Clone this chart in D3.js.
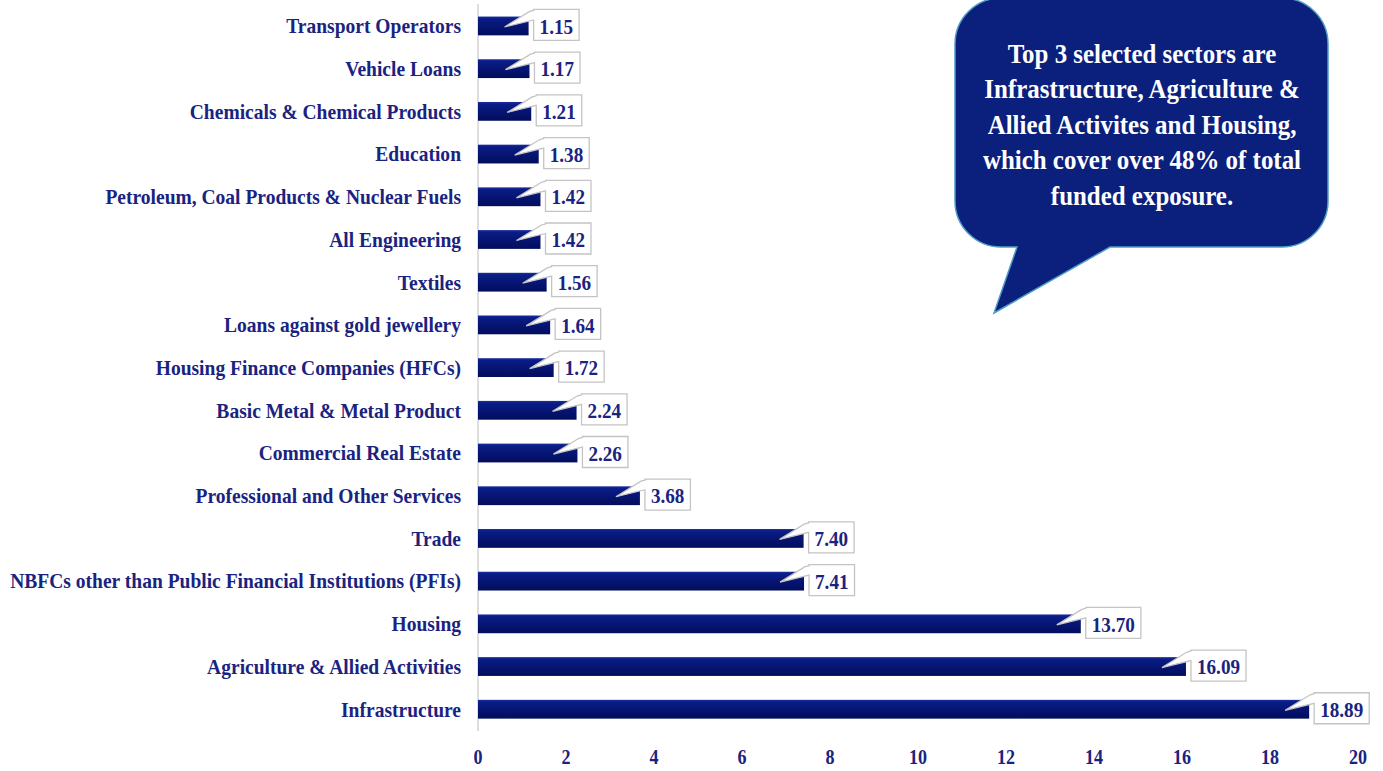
<!DOCTYPE html>
<html>
<head>
<meta charset="utf-8">
<script src="https://cdn.jsdelivr.net/npm/d3@7"></script>
<style>
  html, body { margin: 0; padding: 0; background: #ffffff; }
  svg { display: block; }
  text { font-family: "Liberation Serif", "DejaVu Serif", serif; font-weight: bold; }
</style>
</head>
<body>
<svg id="chart" width="1383" height="771"></svg>
<script>
// Sector-wise share of funded exposure (%)
const categories = [
  "Transport Operators",
  "Vehicle Loans",
  "Chemicals & Chemical Products",
  "Education",
  "Petroleum, Coal Products & Nuclear Fuels",
  "All Engineering",
  "Textiles",
  "Loans against gold jewellery",
  "Housing Finance Companies (HFCs)",
  "Basic Metal & Metal Product",
  "Commercial Real Estate",
  "Professional and Other Services",
  "Trade",
  "NBFCs other than Public Financial Institutions (PFIs)",
  "Housing",
  "Agriculture & Allied Activities",
  "Infrastructure"
];
const values = [1.15, 1.17, 1.21, 1.38, 1.42, 1.42, 1.56, 1.64, 1.72, 2.24, 2.26, 3.68, 7.40, 7.41, 13.70, 16.09, 18.89];
const xTicks = [0, 2, 4, 6, 8, 10, 12, 14, 16, 18, 20];
const noteLines = [
  "Top 3 selected sectors are",
  "Infrastructure, Agriculture &",
  "Allied Activites and Housing,",
  "which cover over 48% of total",
  "funded exposure."
];

const navyText = "#1a2380";
const svg = d3.select("#chart");

// Text set in a slightly narrowed face: positioned via transform
function place(sel, fx, fy, sx) {
  sel.attr("transform", (d, i) => `translate(${fx(d, i)},${fy(d, i)}) scale(${sx},1)`);
}

const x = d3.scaleLinear().domain([0, 20]).range([478, 1358]);
const y = d3.scaleBand().domain(categories).range([4.6, 730.6])
  .paddingInner(0.56).paddingOuter(0.28);

// Bar gradient
const defs = svg.append("defs");
const grad = defs.append("linearGradient").attr("id", "barGrad")
  .attr("x1", 0).attr("y1", 0).attr("x2", 0).attr("y2", 1);
grad.append("stop").attr("offset", "0%").attr("stop-color", "#1a2e9a");
grad.append("stop").attr("offset", "12%").attr("stop-color", "#0a1c86");
grad.append("stop").attr("offset", "100%").attr("stop-color", "#020d5c");

// Vertical axis line
svg.append("line")
  .attr("x1", x(0)).attr("x2", x(0))
  .attr("y1", 4).attr("y2", 731)
  .attr("stroke", "#c8c8c8").attr("stroke-width", 1.2);

// Category labels
const catText = svg.append("g").selectAll("text").data(categories).join("text")
  .attr("dy", "0.35em")
  .attr("text-anchor", "end")
  .attr("font-size", 21)
  .attr("fill", navyText)
  .text(d => d);
place(catText, () => 461, d => y(d) + y.bandwidth() / 2, 0.93);

// Bars
svg.append("g").selectAll("rect").data(values).join("rect")
  .attr("x", x(0))
  .attr("y", (d, i) => y(categories[i]))
  .attr("width", d => x(d) - x(0))
  .attr("height", y.bandwidth())
  .attr("fill", "url(#barGrad)");

// Value callouts
const valScale = 0.87;
const callouts = svg.append("g");
values.forEach((v, i) => {
  const cy = y(categories[i]) + y.bandwidth() / 2;
  const barEnd = x(v);
  const g = callouts.append("g");
  const label = g.append("text")
    .attr("font-size", 22)
    .attr("fill", navyText)
    .attr("text-anchor", "middle")
    .attr("dy", "0.35em")
    .text(v.toFixed(2));
  const tw = label.node().getComputedTextLength() * valScale;
  const bw = tw + 12, bh = 31;
  const bx = barEnd + 5, by = cy - 16.5;
  const tipX = barEnd - 24, tipY = cy + 1;
  const path = d3.path();
  path.moveTo(bx, by);
  path.lineTo(bx + bw, by);
  path.lineTo(bx + bw, by + bh);
  path.lineTo(bx, by + bh);
  path.lineTo(bx, cy - 6);
  path.lineTo(tipX, tipY);
  path.lineTo(bx - 4, by + 2);
  path.lineTo(bx, by + 1);
  path.closePath();
  g.insert("path", "text")
    .attr("d", path.toString())
    .attr("fill", "#ffffff")
    .attr("stroke", "#c4c4c4")
    .attr("stroke-width", 1.3)
    .attr("stroke-linejoin", "miter");
  label.attr("transform", `translate(${bx + bw / 2},${cy}) scale(${valScale},1)`);
});

// Bottom axis tick labels
const tickText = svg.append("g").selectAll("text").data(xTicks).join("text")
  .attr("dy", "0.35em")
  .attr("text-anchor", "middle")
  .attr("font-size", 21)
  .attr("fill", navyText)
  .text(d => d);
place(tickText, d => x(d), () => 757, 0.86);

// Speech bubble note
const bx0 = 955, bx1 = 1328, by0 = -2, by1 = 247, r = 46;
const bubble = d3.path();
bubble.moveTo(bx0 + r, by0);
bubble.lineTo(bx1 - r, by0);
bubble.arcTo(bx1, by0, bx1, by0 + r, r);
bubble.lineTo(bx1, by1 - r);
bubble.arcTo(bx1, by1, bx1 - r, by1, r);
bubble.lineTo(1110, by1);
bubble.lineTo(994, 313);
bubble.lineTo(1017, by1);
bubble.lineTo(bx0 + r, by1);
bubble.arcTo(bx0, by1, bx0, by1 - r, r);
bubble.lineTo(bx0, by0 + r);
bubble.arcTo(bx0, by0, bx0 + r, by0, r);
bubble.closePath();
svg.append("path")
  .attr("d", bubble.toString())
  .attr("fill", "#0b1f7c")
  .attr("stroke", "#4f9cc4")
  .attr("stroke-width", 1.5);

const noteText = svg.append("g").selectAll("text").data(noteLines).join("text")
  .attr("dy", "0.35em")
  .attr("text-anchor", "middle")
  .attr("font-size", 28)
  .attr("fill", "#ffffff")
  .text(d => d);
place(noteText, () => 1142, (d, i) => 53 + i * 35.5, 0.89);
</script>
</body>
</html>
